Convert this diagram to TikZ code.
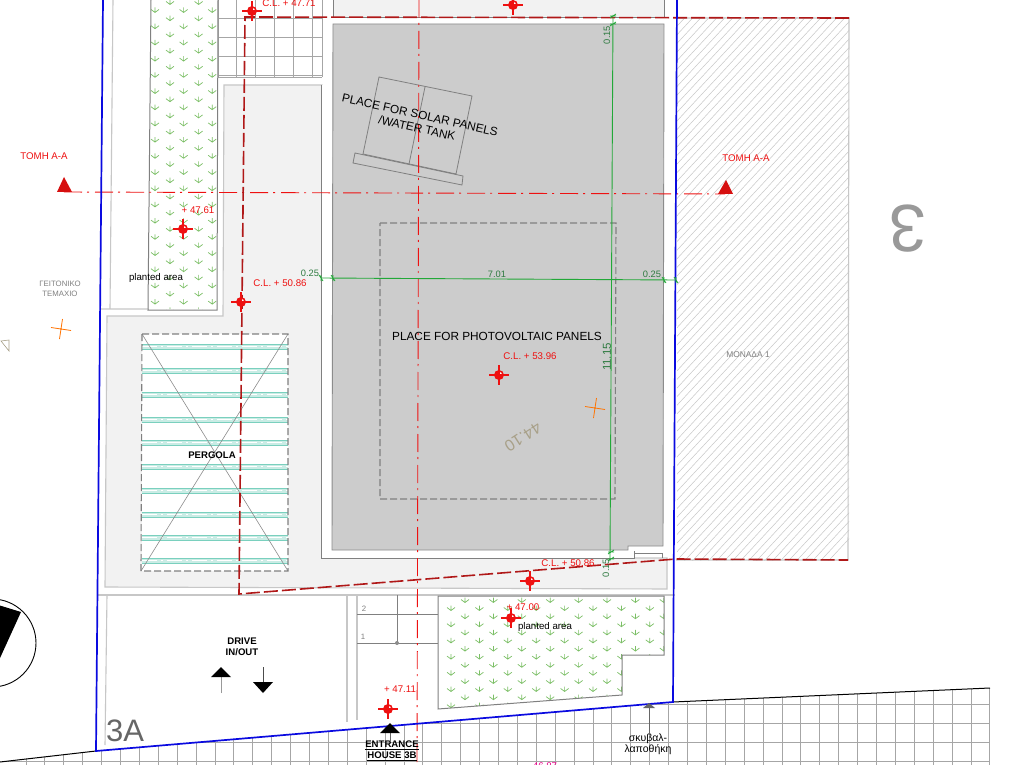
\documentclass[tikz,border=0pt]{standalone}
\usepackage{fontspec}
\setmainfont{Liberation Sans}
\definecolor{bluewall}{HTML}{0A0AE0}
\definecolor{darkred}{HTML}{B01818}
\definecolor{secred}{HTML}{EE1111}
\definecolor{dimgreen}{HTML}{22A838}
\definecolor{dimtext}{HTML}{2E7A40}
\definecolor{plantgreen}{HTML}{7CBF66}
\definecolor{beamteal}{HTML}{7AD0BE}
\definecolor{roofgray}{HTML}{CCCCCC}
\definecolor{floorgray}{HTML}{F2F2F2}
\definecolor{tanmark}{HTML}{A8A088}
\tikzset{
    wall/.style={draw=bluewall, line width=1.7pt},
    cutline/.style={draw=darkred, line width=1.6pt, dash pattern=on 14pt off 4pt},
    sectionline/.style={draw=secred, line width=0.9pt, dash pattern=on 18pt off 5pt on 2pt off 6pt},
    gridline/.style={draw=black!35, line width=0.9pt},
    thinline/.style={draw=black!50, line width=0.8pt},
    lightline/.style={draw=black!22, line width=1.1pt},
    dashbox/.style={draw=black!50, line width=1.1pt, dash pattern=on 7pt off 3pt},
    dimline/.style={draw=dimgreen, line width=0.9pt},
    lbl/.style={inner sep=0pt, align=center, font=\fontsize{9.7}{11}\selectfont},
    redlbl/.style={lbl, text=secred},
    dimlbl/.style={lbl, text=dimtext, font=\fontsize{9.3}{11}\selectfont},
    greylbl/.style={lbl, text=black!50, font=\fontsize{7.8}{10}\selectfont},
    boldlbl/.style={lbl, font=\fontsize{9.6}{11}\selectfont\bfseries},
    levelmark/.pic={
        \fill[secred] (0,0) circle (5);
        \fill[white] (0,0) -- (3.2,0) arc (0:-90:3.2) -- cycle;
        \draw[secred, line width=1.3pt] (-10,0) -- (10,0) (0,-10) -- (0,10);
    },
    plantmark/.pic={
        \draw[plantgreen, line width=0.7pt] (0,-2.5) -- (0,2.5) (-4,-0.5) -- (0,2.5) -- (4,-0.5);
    },
    crossmark/.pic={
        \draw[orange!90!red, line width=0.8pt] (-10,-1.5) -- (10,1.5) (1.5,-10) -- (-1.5,10);
    },
    dimtick/.pic={
        \draw[dimgreen, line width=0.8pt] (0,-3) -- (0,3) (-2,-3) -- (2,3);
    },
}
\begin{document}
\begin{tikzpicture}[x=1pt, y=-1pt]
    \clip (0,0) rectangle (1018,765);
    \fill[white] (0,0) rectangle (1018,765);

    % floor and roof
    \fill[floorgray] (333,0) rectangle (664,17);
    \draw[thinline] (333,0) -- (333,17) -- (664,17) -- (664,0);
    \filldraw[fill=floorgray, lightline] (224,85) -- (322,85) -- (322,558) -- (634,558) -- (667,558)
        -- (667,589) -- (105,587) -- (107,316) -- (223,316) -- cycle;
    \fill[white] (322,85) rectangle (333,558);
    \fill[white] (322,551) rectangle (634,558);
    \filldraw[fill=roofgray, draw=black!45, line width=0.9pt] (333,24) -- (664,24) -- (663,546) -- (628,546)
        -- (628,550) -- (332,550) -- cycle;
    \draw[thinline] (321,85) -- (321,558) -- (634,558) -- (634,551) (634,553) -- (662,553) -- (662,558);

    % grid top left
    \foreach \x in {218,236,255,274,293,312,322}
        \draw[gridline] (\x,0) -- (\x,77);
    \foreach \y in {18,37,56,75,77}
        \draw[gridline] (218,\y) -- (322,\y);

    % side lines
    \draw[lightline] (113,0) -- (110,309) (101,309) -- (148,309);
    \draw[lightline] (98,595) -- (675,595);
    \draw[lightline] (107,595) -- (105,745);
    \draw[lightline] (347,595) -- (347,722) (357,595) -- (357,720);

    % plants
    \begin{scope}
        \clip (151,0) -- (218,0) -- (217,309) -- (148,309) -- cycle;
        \foreach \j in {0,...,19}
        {
        \foreach \i in {0,1,2}
            \pic at ({155+28.6*\i},{10+16.2*\j}) {plantmark};
        \foreach \i in {0,1}
            \pic at ({170+28.6*\i},{2+16.2*\j}) {plantmark};
        }
    \end{scope}
    \draw[thinline, line width=1pt] (151,0) -- (148,310) -- (217,310) -- (218,0);
    \begin{scope}
        \clip (438,596) -- (664,596) -- (664,655) -- (622,655) -- (622,695) -- (438,709) -- cycle;
        \foreach \j in {0,...,7}
        {
        \foreach \i in {0,...,7}
            \pic at ({465+28.4*\i},{600+16.2*\j}) {plantmark};
        \foreach \i in {0,...,8}
            \pic at ({451+28.4*\i},{608+16.2*\j}) {plantmark};
        }
    \end{scope}
    \draw[thinline, line width=1pt] (438,596) -- (664,596) -- (664,655) -- (622,655) -- (622,695) -- (438,709) -- cycle;

    % stairs
    \draw[thinline] (357,614) -- (438,614) (357,643) -- (438,643) (397,595) -- (397,643);
    \fill[black!45] (397,643) circle (2);
    \node[greylbl] (step2) at (364,609) {2};
    \node[greylbl] (step1) at (363,637) {1};

    % hatched house
    \begin{scope}
        \clip (677,18) rectangle (849,560);
        \foreach \k in {0,...,85}
            \draw[black!22, line width=0.5pt] ({660+8*\k},10) -- ({660+8*\k-520},570);
    \end{scope}
    \draw[lightline] (677,18) -- (849,18) -- (848,560) -- (676,560);

    % pergola
    \fill[white] (142,334) rectangle (288,571);
    \foreach \y in {344,368,392,417,440,464,488,512,535,558}
    {
    \fill[beamteal!40] (142,\y) rectangle (288,\y+5);
    \draw[white, line width=1.3pt, dash pattern=on 15pt off 4pt on 2pt off 4pt] (142,\y+2.5) -- (288,\y+2.5);
    \draw[beamteal, line width=0.6pt] (142,\y) -- (288,\y) (142,\y+5) -- (288,\y+5);
    }
    \draw[black!45, line width=0.6pt] (142,334) -- (288,571) (288,334) -- (141,571);
    \draw[dashbox] (142,334) -- (288,334) -- (288,571) -- (141,571) -- cycle;

    % water tank
    \draw[thinline] (379,77) -- (472,96) -- (456,174) -- (363,154) -- cycle;
    \draw[thinline] (425,87) -- (409,164);
    \draw[thinline] (355,153) -- (463,176) -- (462,185) -- (353,163) -- cycle;

    % photovoltaic
    \draw[dashbox] (380,223) -- (616,223) -- (615,499) -- (380,499) -- cycle;

    % grid bottom
    \begin{scope}
        \clip (0,762) -- (96,751) -- (673,702) -- (990,688) -- (990,765) -- (0,765) -- cycle;
        \foreach \k in {0,...,51}
            \draw[gridline] ({26+18.9*\k},680) -- ({26+18.9*\k},765);
        \foreach \y in {704,723,742,761}
            \draw[gridline] (0,\y) -- (990,\y);
    \end{scope}
    \draw[black, line width=1pt] (0,762) -- (96,751) (673,702) -- (990,688);

    % section lines
    \draw[sectionline] (419,0) -- (417,765);
    \draw[sectionline] (64,192) -- (725,194);
    \fill[secred!90!black] (57,192) -- (64,177) -- (72,192) -- cycle;
    \fill[secred!90!black] (718,194) -- (726,180) -- (733,194) -- cycle;

    % cut outline
    \draw[cutline] (849,18) -- (245,17) -- (239,594) -- (676,559) -- (848,560);

    % walls
    \draw[wall] (103,0) -- (96,751) -- (673,702) -- (677,0);

    % dimensions
    \coordinate (dimleft) at (321,278);
    \coordinate (dimright) at (676,280);
    \coordinate (dimtop) at (613,15);
    \coordinate (dimbottom) at (610,561);
    \draw[dimline] (dimleft) -- (dimright);
    \draw[dimline] (dimtop) -- (dimbottom);
    \foreach \x/\y in {321/278, 333/278, 664/280, 676/280}
        \pic at (\x,\y) {dimtick};
    \foreach \x/\y in {613/16, 613/24, 611/552, 611/559}
        \pic[rotate=90] at (\x,\y) {dimtick};
    \node[dimlbl] (dimA) at (310,273) {0.25};
    \node[dimlbl] (dimB) at (497,274) {7.01};
    \node[dimlbl] (dimC) at (652,274) {0.25};
    \node[dimlbl, rotate=90] (dimD) at (607,35) {0.15};
    \node[dimlbl, rotate=90, font=\fontsize{11.5}{12}\selectfont] (dimE) at (607,357) {11.15};
    \node[dimlbl, rotate=90] (dimF) at (606,568) {0.15};

    % level marks
    \foreach \x/\y in {252/11, 513/5, 183/229, 241/302, 499/375, 530/581, 511/618, 388/709}
        \pic at (\x,\y) {levelmark};
    \node[redlbl] (levelA) at (289,3) {C.L. + 47.71};
    \node[redlbl] (levelB) at (198,210) {+ 47.61};
    \node[redlbl] (levelC) at (280,283) {C.L. + 50.86};
    \node[redlbl] (levelD) at (530,356) {C.L. + 53.96};
    \node[redlbl] (levelE) at (568,563) {C.L. + 50.86};
    \node[redlbl] (levelF) at (523,607) {+ 47.00};
    \node[redlbl] (levelG) at (400,689) {+ 47.11};
    \node[redlbl] (secL) at (44,156) {ΤΟΜΗ Α-Α};
    \node[redlbl] (secR) at (746,158) {ΤΟΜΗ Α-Α};
    \node[lbl, text=magenta] (levelH) at (545,766) {46.87};

    % texts
    \node[lbl, rotate=-12.5, font=\fontsize{11.8}{13}\selectfont] (tankA) at (420,115) {PLACE FOR SOLAR PANELS};
    \node[lbl, rotate=-12.5, font=\fontsize{11.8}{13}\selectfont] (tankB) at (417,128) {/WATER TANK};
    \node[lbl, font=\fontsize{11.8}{13}\selectfont] (pvlabel) at (497,336) {PLACE FOR PHOTOVOLTAIC PANELS};
    \node[lbl] (plantA) at (156,278) {planted area};
    \node[lbl] (plantB) at (545,627) {planted area};
    \node[boldlbl] (pergola) at (212,455) {PERGOLA};
    \node[boldlbl] (drive) at (242,647) {DRIVE\\IN/OUT};
    \node[boldlbl] (entrance) at (392,751) {\underline{ENTRANCE}\\\underline{HOUSE 3B}};
    \node[boldlbl, font=\fontsize{10.5}{11}\selectfont] (store) at (648,744.5) {σκυβαλ-\\λαποθήκη};
    \node[greylbl] (neighbour) at (60,289) {ΓΕΙΤΟΝΙΚΟ\\ΤΕΜΑΧΙΟ};
    \node[greylbl, font=\fontsize{8.4}{10}\selectfont] (unit) at (748,355) {ΜΟΝΑΔΑ 1};
    \node[lbl, text=black!60, font=\fontsize{31}{32}\selectfont] (threeA) at (125,731) {3A};
    \node[lbl, text=black!40, font=\fontsize{67}{70}\selectfont, rotate=180] (three) at (908,229) {3};
    \node[lbl, text=tanmark, font=\fontsize{16}{18}\selectfont, rotate=213] (height) at (523,437) {44.10};

    % small marks
    \pic at (595,408) {crossmark};
    \pic at (61,329) {crossmark};
    \draw[tanmark, line width=0.6pt] (1,341) -- (9,340) -- (9,351) -- cycle;

    % arrows
    \draw[black!40, line width=1pt] (221,693) -- (221,670);
    \fill[black] (211,677) -- (221,667) -- (231,677) -- cycle;
    \draw[black!70, line width=0.8pt] (263,667) -- (263,685);
    \fill[black] (253,682) -- (263,693) -- (273,682) -- cycle;
    \draw[black!60, line width=0.8pt] (390,730) -- (390,742);
    \fill[black] (380,733) -- (390,723) -- (400,733) -- cycle;
    \draw[black!60, line width=0.8pt] (649,706) -- (649,735);
    \fill[black!60] (643,708) -- (649,703) -- (655,708) -- cycle;

    % compass
    \draw[black, line width=0.9pt] (-8,643) circle (44);
    \fill[black] (-5,604) -- (21,612) -- (-10,680) -- cycle;
\end{tikzpicture}
\end{document}
